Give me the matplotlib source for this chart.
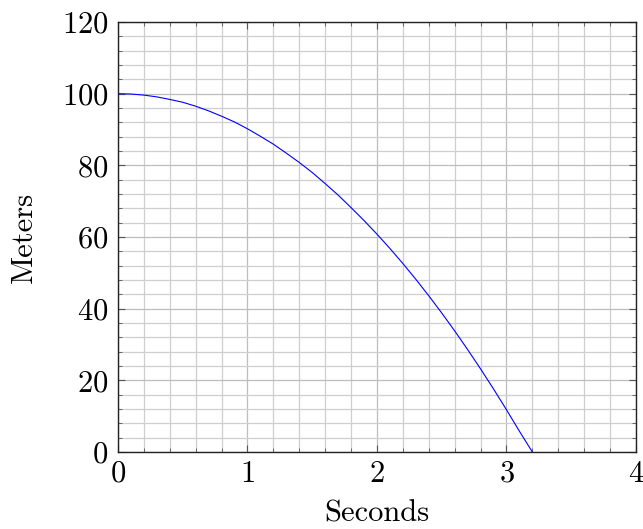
import matplotlib
matplotlib.use('Agg')
import matplotlib.pyplot as plt
from matplotlib.ticker import MultipleLocator

plt.rcParams['font.family'] = 'serif'
plt.rcParams['font.serif'] = ['cmr10']
plt.rcParams['mathtext.fontset'] = 'cm'
plt.rcParams['axes.formatter.use_mathtext'] = True

# values
seconds = [0.0, 0.1, 0.2, 0.3, 0.4, 0.5, 0.6, 0.7, 0.8, 0.9,
           1.0, 1.1, 1.2, 1.3, 1.4, 1.5, 1.6, 1.7, 1.8, 1.9,
           2.0, 2.1, 2.2, 2.3, 2.4, 2.5, 2.6, 2.7, 2.8, 2.9,
           3.0, 3.1, 3.2]
meters = [100.0, 99.9, 99.6, 99.1, 98.4, 97.6, 96.5, 95.2, 93.7, 92.1,
          90.2, 88.1, 85.9, 83.4, 80.8, 78.0, 74.9, 71.7, 68.2, 64.6,
          60.8, 56.8, 52.6, 48.2, 43.6, 38.8, 33.8, 28.6, 23.2, 17.6,
          11.8, 5.8, 0.0]

fig = plt.figure(figsize=(6.43, 5.29), dpi=100)
ax = fig.add_axes([0.1835, 0.1456, 0.8055, 0.8128])

ax.plot(seconds, meters, color='blue', lw=0.8, zorder=3)

ax.set_xlim(0, 4)
ax.set_ylim(0, 120)
ax.xaxis.set_major_locator(MultipleLocator(1))
ax.xaxis.set_minor_locator(MultipleLocator(0.2))
ax.yaxis.set_major_locator(MultipleLocator(20))
ax.yaxis.set_minor_locator(MultipleLocator(4))

ax.grid(True, which='major', color='#bdbdbd', lw=0.9, zorder=0)
ax.grid(True, which='minor', color='#cfcfcf', lw=0.9, zorder=0)
ax.set_axisbelow(True)
ax.tick_params(which='both', direction='in', top=True, right=True,
               color='#555555', labelsize=22)
ax.tick_params(which='major', length=5, width=0.8)
ax.tick_params(which='minor', length=3, width=0.6)
ax.tick_params(axis='x', pad=6)
ax.tick_params(axis='y', pad=7)
for s in ax.spines.values():
    s.set_linewidth(1.0)
    s.set_color('#222222')

ax.set_xlabel('Seconds', fontsize=22, labelpad=9)
ax.set_ylabel('Meters', fontsize=22, labelpad=17)

fig.savefig('out.png', dpi=100)
